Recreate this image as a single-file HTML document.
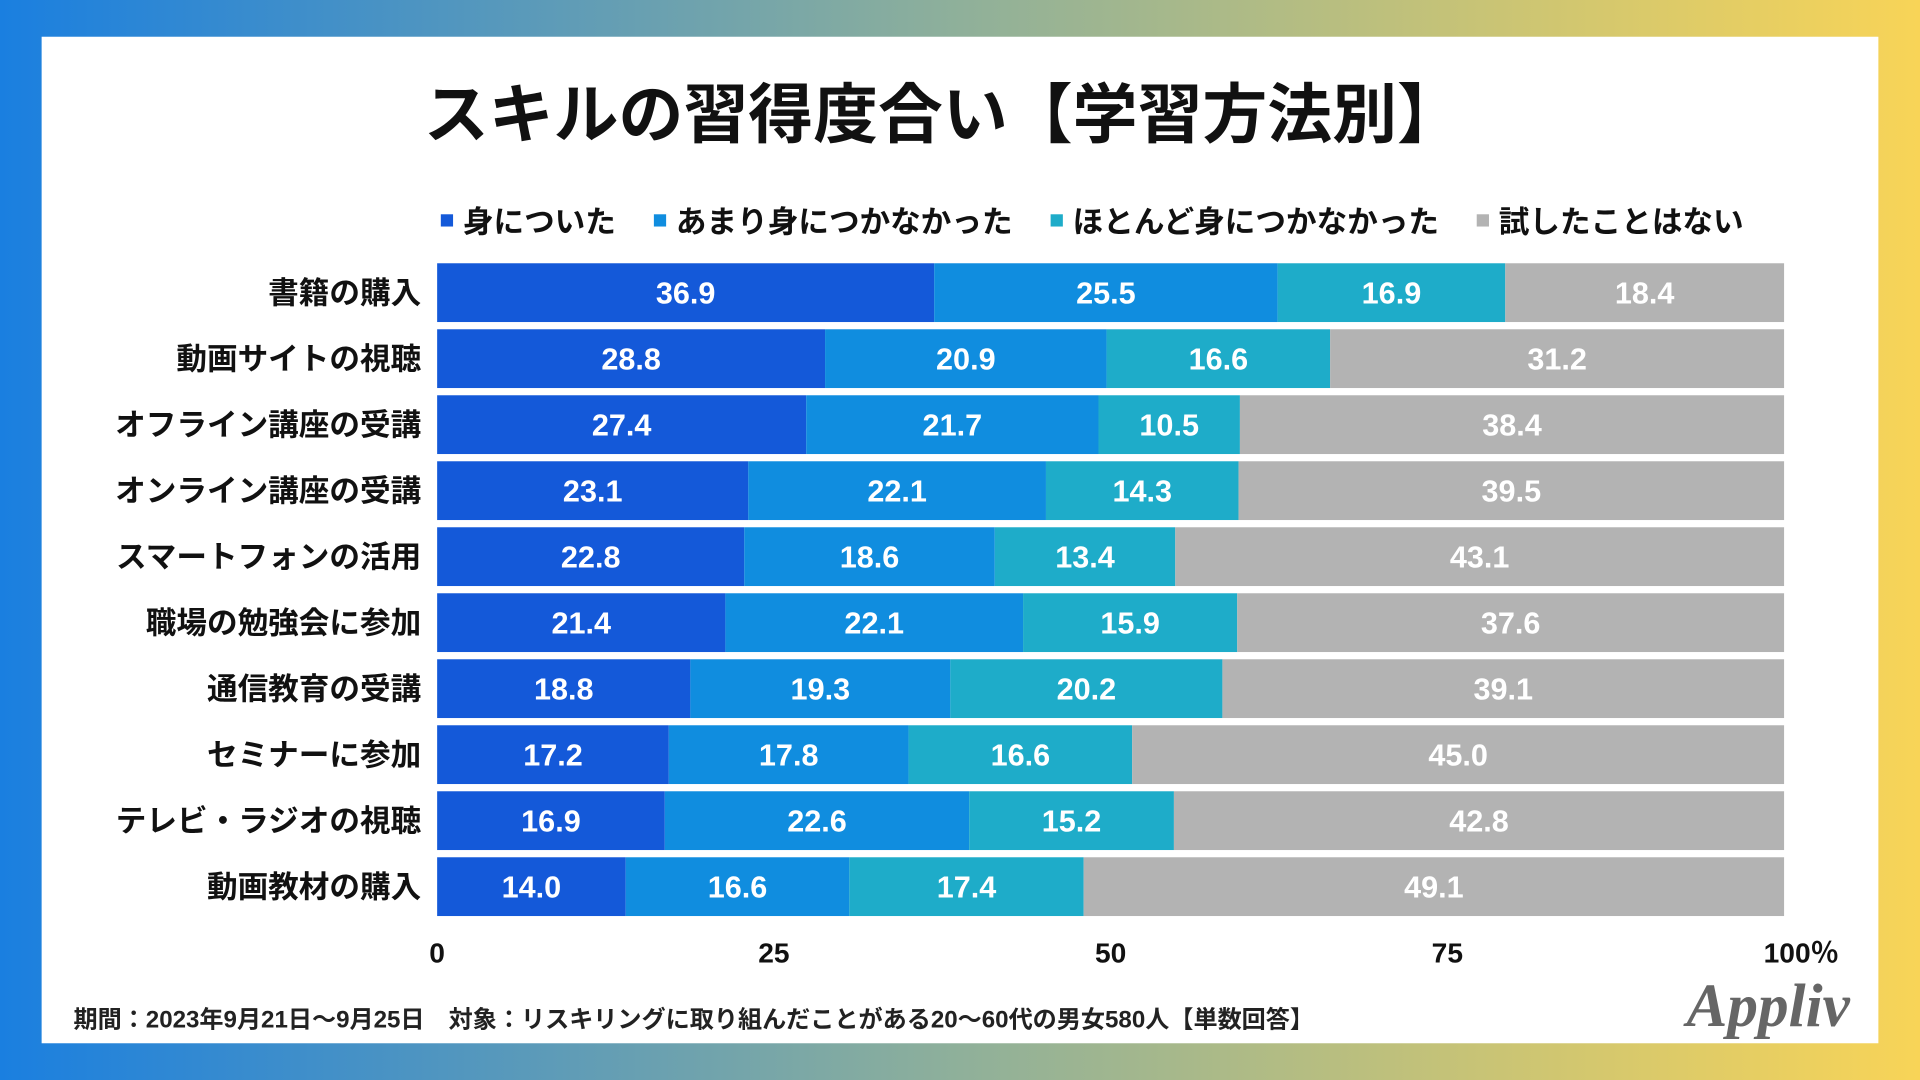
<!DOCTYPE html>
<html><head><meta charset="utf-8"><style>
html,body{margin:0;padding:0;width:1920px;height:1080px;overflow:hidden}
svg{display:block}
text{font-family:"Liberation Sans","Noto Sans CJK JP",sans-serif;font-weight:bold}
</style></head><body>
<svg id="chart" width="1920" height="1080" viewBox="0 0 1568 882" xmlns="http://www.w3.org/2000/svg">
<defs><linearGradient id="bg" x1="0" x2="1" y1="0" y2="0">
<stop offset="0" stop-color="#1a7fe0"/><stop offset="0.5" stop-color="#8fb09a"/><stop offset="1" stop-color="#f8d457"/></linearGradient></defs>
<rect x="0" y="0" width="1568" height="882" fill="url(#bg)"/>
<rect x="34" y="30" width="1500" height="822" fill="#fff"/>
<text x="770" y="112" font-size="53" text-anchor="middle" fill="#111">スキルの習得度合い【学習方法別】</text>
<g id="legend"></g>
<g id="bars"></g>
<g id="xaxis"></g>
<text x="60" y="839" font-size="19.7" fill="#222" font-weight="normal">期間：2023年9月21日〜9月25日　対象：リスキリングに取り組んだことがある20〜60代の男女580人【単数回答】</text>
<text x="1444" y="838" font-size="50" text-anchor="middle" fill="#666" font-style="italic" style="font-family:'Liberation Serif',serif">Appliv</text>
</svg>
<script>
const categories=["書籍の購入","動画サイトの視聴","オフライン講座の受講","オンライン講座の受講","スマートフォンの活用","職場の勉強会に参加","通信教育の受講","セミナーに参加","テレビ・ラジオの視聴","動画教材の購入"];
const seriesNames=["身についた","あまり身につかなかった","ほとんど身につかなかった","試したことはない"];
const s1=[36.9,28.8,27.4,23.1,22.8,21.4,18.8,17.2,16.9,14.0];
const s2=[25.5,20.9,21.7,22.1,18.6,22.1,19.3,17.8,22.6,16.6];
const s3=[16.9,16.6,10.5,14.3,13.4,15.9,20.2,16.6,15.2,17.4];
const s4=[18.4,31.2,38.4,39.5,43.1,37.6,39.1,45.0,42.8,49.1];
const ticks=[0,25,50,75,100];
const tickLabels=["0","25","50","75","100％"];
const colors=["#1459d9","#108ddf","#1eacc9","#b3b3b3"];
const NS="http://www.w3.org/2000/svg";
const x0=357,x1=1457,y0=215,pitch=53.9,bh=48;
const xs=v=>x0+v/100*(x1-x0);
const ys=i=>y0+i*pitch;
function mk(tag,attrs,parent,txt){const e=document.createElementNS(NS,tag);for(const k in attrs)e.setAttribute(k,attrs[k]);if(txt!==undefined)e.textContent=txt;parent.appendChild(e);return e;}
const bars=document.getElementById('bars');
const series=[s1,s2,s3,s4];
categories.forEach((c,i)=>{
  const lab=mk('text',{x:344,y:ys(i)+bh/2+9,'font-size':25,'text-anchor':'end',fill:'#111'},bars,c);
  
  
  let cum=0;
  series.forEach((s,k)=>{
    const start=cum;let end=cum+s[i];
    if(k===series.length-1)end=Math.max(end,100);
    cum+=s[i];
    const r=mk('rect',{x:xs(start),y:ys(i),width:xs(end)-xs(start),height:bh,fill:colors[k]},bars);
    
    
    const t=mk('text',{x:(xs(start)+xs(end))/2,y:ys(i)+bh/2+9,'font-size':25,'text-anchor':'middle',fill:'#fff'},bars,s[i].toFixed(1));
    
    
  });
});
const ax=document.getElementById('xaxis');
ticks.forEach((v,j)=>{
  const t=mk('text',{x:xs(v)+(j===4?14:0),y:786,'font-size':23,'text-anchor':'middle',fill:'#111'},ax,tickLabels[j]);
  
  
});
const lg=document.getElementById('legend');
const lx=[360,534,858,1206];
seriesNames.forEach((n,k)=>{
  const r=mk('rect',{x:lx[k],y:175,width:10,height:10,fill:colors[k]},lg);
  
  
  const t=mk('text',{x:lx[k]+18,y:190,'font-size':25,fill:'#111'},lg,n);
  
  
});
</script>
</body></html>
